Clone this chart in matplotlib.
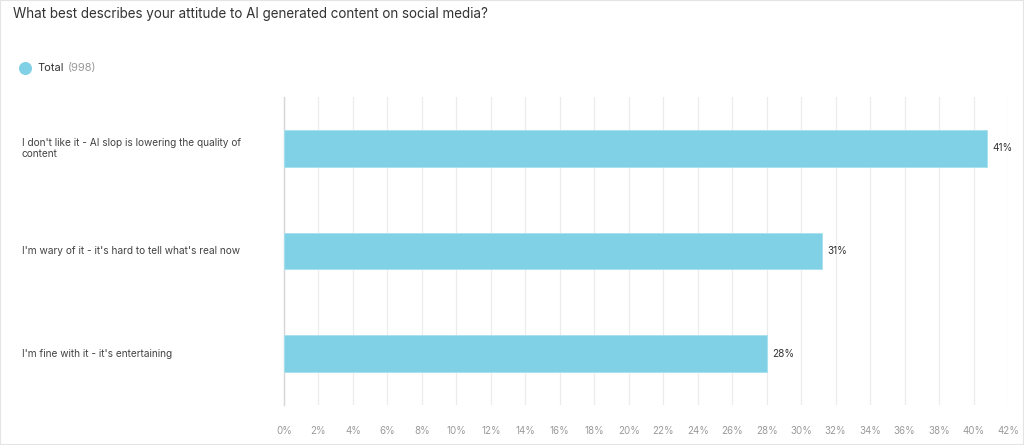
import matplotlib.pyplot as plt
from matplotlib.patches import Rectangle

plt.rcParams['font.family'] = ['Inter', 'DejaVu Sans']

title = "What best describes your attitude to AI generated content on social media?"
categories = [
    "I don't like it - AI slop is lowering the quality of\ncontent",
    "I'm wary of it - it's hard to tell what's real now",
    "I'm fine with it - it's entertaining",
]
values = [40.8, 31.2, 28.0]
value_labels = ["41%", "31%", "28%"]
series_name = "Total"
respondents = 998
xticks = list(range(0, 43, 2))

bar_color = "#80d0e6"

fig = plt.figure(figsize=(10.24, 4.45), dpi=100)
ax = fig.add_axes([284 / 1024, 1 - 405 / 445, (1008 - 284) / 1024, (405 - 97) / 445])

ypos = list(range(len(categories)))
ax.barh(ypos, values, height=0.36, color=bar_color, edgecolor="#a8e0ee", linewidth=0.6, zorder=3)
for y, v, lab in zip(ypos, values, value_labels):
    ax.text(v + 0.3, y, lab, va="center", ha="left", fontsize=7.2, color="#333333")

ax.set_xlim(0, 42)
ax.set_ylim(2.5, -0.5)
ax.set_xticks(xticks)
ax.set_xticklabels([f"{t}%" for t in xticks], fontsize=7, color="#9a9a9a")
ax.tick_params(axis="x", length=0, pad=15)
ax.set_yticks([])
ax.grid(axis="x", color="#ececec", linewidth=0.9, zorder=0)
for s in ["top", "right", "bottom"]:
    ax.spines[s].set_visible(False)
ax.spines["left"].set_color("#d6d6d6")
ax.spines["left"].set_linewidth(1.0)

# category labels on the left
for y, cat in zip(ypos, categories):
    yy = ax.transData.transform((0, y))[1]
    fy = yy / fig.bbox.height
    fig.text(22 / 1024, fy, cat, ha="left", va="center", fontsize=7.3,
             color="#444444", linespacing=1.15)

fig.text(13 / 1024, 1 - 14 / 445, title, ha="left", va="center", fontsize=9.7, color="#333333")

# frame + legend
fig.patches.append(Rectangle((0, 0), 1, 1, transform=fig.transFigure, fill=False,
                             edgecolor="#e4e4e4", linewidth=1.5))
ax_leg = fig.add_axes([0, 0, 1, 1], facecolor="none")
ax_leg.set_xlim(0, 1024)
ax_leg.set_ylim(445, 0)
ax_leg.axis("off")
ax_leg.scatter([25], [68], s=70, color=bar_color, zorder=3)
t1 = ax_leg.text(37, 68, series_name, ha="left", va="center", fontsize=8, color="#333333")
fig.canvas.draw()
x_end = t1.get_window_extent().x1
ax_leg.text(x_end + 4, 68, f"({respondents})", ha="left", va="center", fontsize=8, color="#999999")

fig.savefig("out.png", dpi=100)
